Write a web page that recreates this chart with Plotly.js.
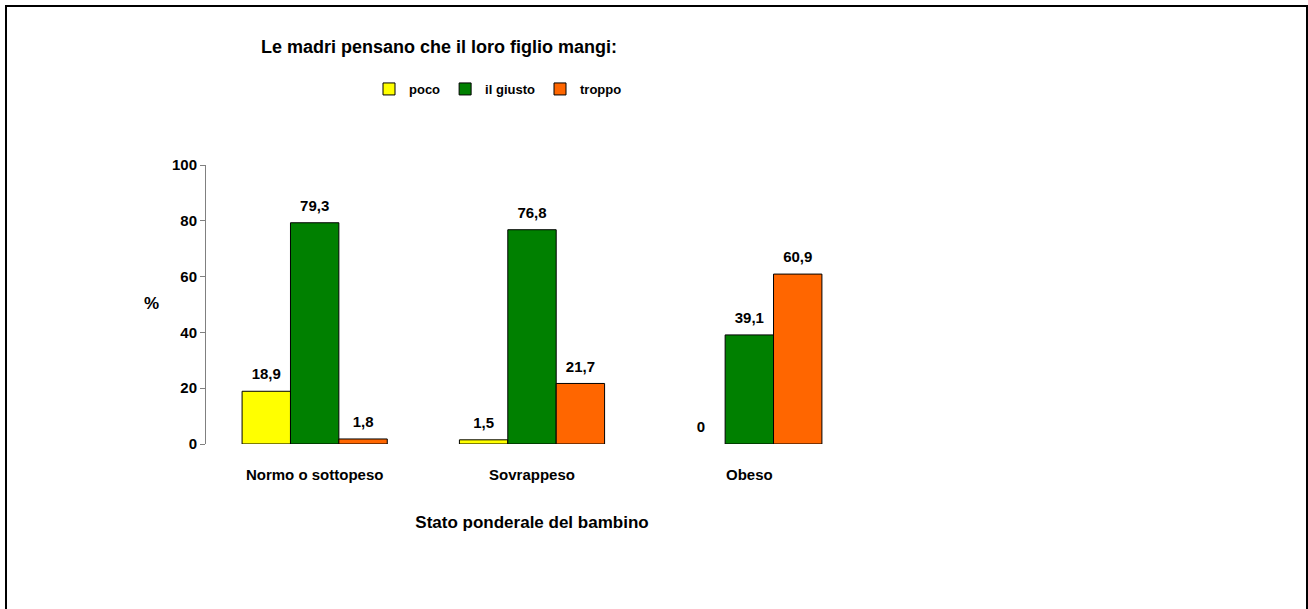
<!DOCTYPE html>
<html>
<head>
<meta charset="utf-8">
<script src="https://cdn.plot.ly/plotly-3.0.1.min.js"></script>
<style>
  html, body { margin: 0; padding: 0; background: #fff; }
  #wrap { position: relative; width: 1308px; height: 609px; overflow: hidden; }
  #chart { width: 1308px; height: 609px; }
  #frame { position: absolute; left: 5px; top: 5px; width: 1303px; height: 640px;
           box-sizing: border-box; border: 2px solid #000; pointer-events: none; }
</style>
</head>
<body>
<div id="wrap">
  <div id="chart"></div>
  <div id="frame"></div>
</div>
<script>
// Data
const categories = ["Normo o sottopeso", "Sovrappeso", "Obeso"];
const seriesNames = ["poco", "il giusto", "troppo"];
const poco = [18.9, 1.5, 0];
const ilGiusto = [79.3, 76.8, 39.1];
const troppo = [1.8, 21.7, 60.9];
const yTicks = [0, 20, 40, 60, 80, 100];

const colors = ["#FFFF00", "#008000", "#FF6600"];
const FONT = "Liberation Sans, Arial, sans-serif";

function fmt(v) { return String(v).replace('.', ','); }

const allValues = [poco, ilGiusto, troppo];
const traces = allValues.map((vals, i) => ({
  type: 'bar',
  name: seriesNames[i],
  x: categories,
  y: vals,
  text: vals.map(fmt),
  texttemplate: '<span style="font-size:15px">%{text}</span><br> ',
  textposition: 'outside',
  cliponaxis: false,
  textfont: { family: FONT, size: 6, color: '#000', weight: 'bold' },
  marker: { color: colors[i], line: { color: '#000', width: vals.map(v => v === 0 ? 0 : 1) } },
  hoverinfo: 'x+y+name'
}));

const layout = {
  width: 1308,
  height: 609,
  margin: { l: 206, r: 450, t: 165, b: 165 },
  paper_bgcolor: '#fff',
  plot_bgcolor: '#fff',
  font: { family: FONT, color: '#000', weight: 'bold' },
  title: {
    text: 'Le madri pensano che il loro figlio mangi:',
    font: { family: FONT, size: 18, color: '#000', weight: 'bold' },
    xref: 'container', x: 439 / 1308, xanchor: 'center',
    yref: 'container', y: 1 - 47 / 609, yanchor: 'middle'
  },
  barmode: 'group',
  bargap: 0.332,
  bargroupgap: 0,
  showlegend: true,
  legend: {
    orientation: 'h',
    xref: 'container', x: 369 / 1308, xanchor: 'left',
    yref: 'container', y: 1 - 89 / 609, yanchor: 'middle',
    font: { family: FONT, size: 13, color: '#000', weight: 'bold' },
    traceorder: 'normal',
    itemwidth: 30,
    bgcolor: 'rgba(0,0,0,0)'
  },
  xaxis: {
    type: 'category',
    range: [-0.5, 2.5],
    showline: false,
    showgrid: false,
    zeroline: false,
    ticks: '',
    ticklabelstandoff: 20,
    tickfont: { family: FONT, size: 15, color: '#000', weight: 'bold' },
    title: {
      text: 'Stato ponderale del bambino',
      font: { family: FONT, size: 17, color: '#000', weight: 'bold' },
      standoff: 34
    }
  },
  yaxis: {
    range: [0, 100],
    tickvals: yTicks,
    ticktext: yTicks.map(String),
    showline: true,
    linecolor: '#808080',
    linewidth: 1,
    ticks: 'outside',
    ticklen: 5,
    tickcolor: '#808080',
    showgrid: false,
    zeroline: false,
    tickfont: { family: FONT, size: 15, color: '#000', weight: 'bold' }
  },
  annotations: [{
    text: '%',
    xref: 'paper', x: (152 - 206) / 651.6, xanchor: 'center',
    yref: 'paper', y: (444 - 303) / 279, yanchor: 'middle',
    showarrow: false,
    font: { family: FONT, size: 17, color: '#000', weight: 'bold' }
  }]
};

Plotly.newPlot('chart', traces, layout, { displayModeBar: false, responsive: false });
</script>
</body>
</html>
